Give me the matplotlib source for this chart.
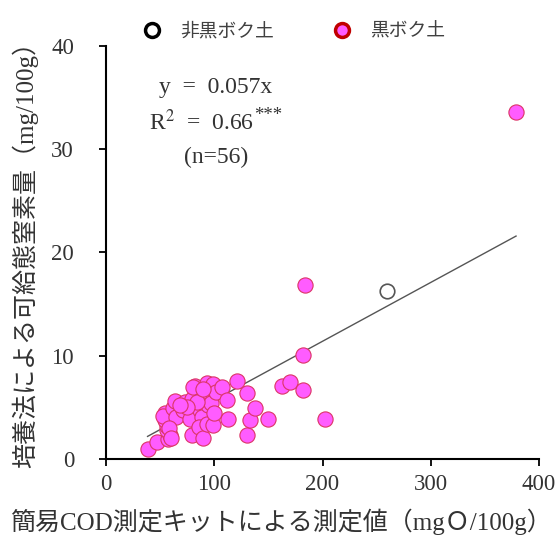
import matplotlib
matplotlib.use("Agg")
import matplotlib.pyplot as plt
from matplotlib.lines import Line2D
import numpy as np

plt.rcParams['font.family'] = ['Liberation Serif', 'Noto Sans CJK JP', 'DejaVu Sans']
plt.rcParams['mathtext.fontset'] = 'stix'

# Andosol (黒ボク土) points: COD kit value (mgO/100g), available N (mg/100g)
ando_x = [38.4, 46.7, 57.5, 59, 56, 56, 54.5, 54.5, 53, 62, 63.7, 65, 71.4, 73,
          77.6, 79, 79, 82.2, 80.6, 86.8, 88.3, 86.2, 89.9, 93, 92.9, 99, 91.5,
          96, 94.5, 97, 99, 102, 106.8, 111.4, 112.9, 120.6, 84, 75, 68, 100,
          58, 130.5, 129.9, 133, 137.6, 149.3, 162.2, 170, 182.3, 182.3, 183.8,
          378.8, 202.5, 90, 60]
ando_y = [0.97, 1.6, 1.9, 2.3, 2.8, 3.2, 3.8, 4.5, 4.2, 4.9, 5.6, 4.1, 4.7, 5.5,
          3.9, 2.3, 5.8, 7.1, 7.0, 4.7, 4.1, 3.1, 2.0, 3.4, 7.4, 7.3, 6.0,
          5.8, 5.2, 5.4, 3.3, 6.5, 7.0, 5.7, 3.9, 7.6, 5.5, 5.0, 5.2, 4.5,
          3.0, 6.4, 2.3, 3.8, 4.9, 3.9, 7.1, 7.5, 6.7, 10.1, 16.9,
          33.6, 3.9, 6.8, 2.0]
# Non-Andosol (非黒ボク土)
non_x = [259.5]
non_y = [16.3]

slope = 0.057
x_ticks = [0, 100, 200, 300, 400]
y_ticks = [0, 10, 20, 30, 40]

W, H = 556, 542
fig = plt.figure(figsize=(W / 100, H / 100), dpi=100)
ax = fig.add_axes([106 / W, 83 / H, 433 / W, 413 / H])

all_x = np.array(ando_x + non_x)
lx = np.array([all_x.min(), all_x.max()])
ax.plot(lx, slope * lx, color='#555555', lw=1.0, zorder=2)

ax.scatter(ando_x, ando_y, s=120, facecolor='#ff5cff', edgecolor='#dc3565',
           linewidths=0.8, zorder=3)
ax.scatter(non_x, non_y, s=110, facecolor='white', edgecolor='#555555',
           linewidths=1.2, zorder=3)

ax.set_xlim(0, 400)
ax.set_ylim(0, 40)
ax.set_xticks(x_ticks)
ax.set_yticks(y_ticks)
for s in ['top', 'right']:
    ax.spines[s].set_visible(False)
for s in ['left', 'bottom']:
    ax.spines[s].set_linewidth(1.5)
ax.tick_params(axis='both', direction='out', length=5, width=1.3,
               labelsize=16.5, labelcolor='#333333')
ax.tick_params(axis='y', pad=18)
ax.tick_params(axis='x', pad=6)

fig.text(281 / W, 1 - 522 / H, '簡易COD測定キットによる測定値（mgＯ/100g）',
         ha='center', va='center', fontsize=18, color='#333333')
fig.text(25 / W, 1 - 248 / H, '培養法による可給態窒素量（mg/100g）',
         ha='center', va='center', rotation=90, fontsize=18, color='#333333')

ann_kw = dict(ha='center', va='center', fontsize=17, color='#333333')
fig.text(216 / W, 1 - 88 / H, 'y  =  0.057x', **ann_kw)
r2 = fig.text(202 / W, 1 - 122 / H, r'R$^2$  =  0.66', **ann_kw)
ax.annotate('***', xy=(1.0, 0.42), xycoords=r2, ha='left', va='bottom',
            fontsize=13.5, color='#333333')
fig.text(216 / W, 1 - 157 / H, '(n=56)', **ann_kw)

handles = [
    Line2D([], [], ls='none', marker='o', markersize=10, markerfacecolor='white',
           markeredgecolor='black', markeredgewidth=2.5),
    Line2D([], [], ls='none', marker='o', markersize=10, markerfacecolor='#ff5cff',
           markeredgecolor='#c00000', markeredgewidth=2.5),
]
leg = fig.legend(handles, ['非黒ボク土', '黒ボク土'], loc='center',
                 bbox_to_anchor=(294 / W, 1 - 31 / H), ncol=2, frameon=False,
                 handlelength=1.0, handletextpad=1.0, columnspacing=3.1,
                 borderpad=0, prop={'family': ['Noto Sans CJK JP'], 'size': 13.5})
for t in leg.get_texts():
    t.set_color('#404040')

fig.savefig('out.png', dpi=100)
